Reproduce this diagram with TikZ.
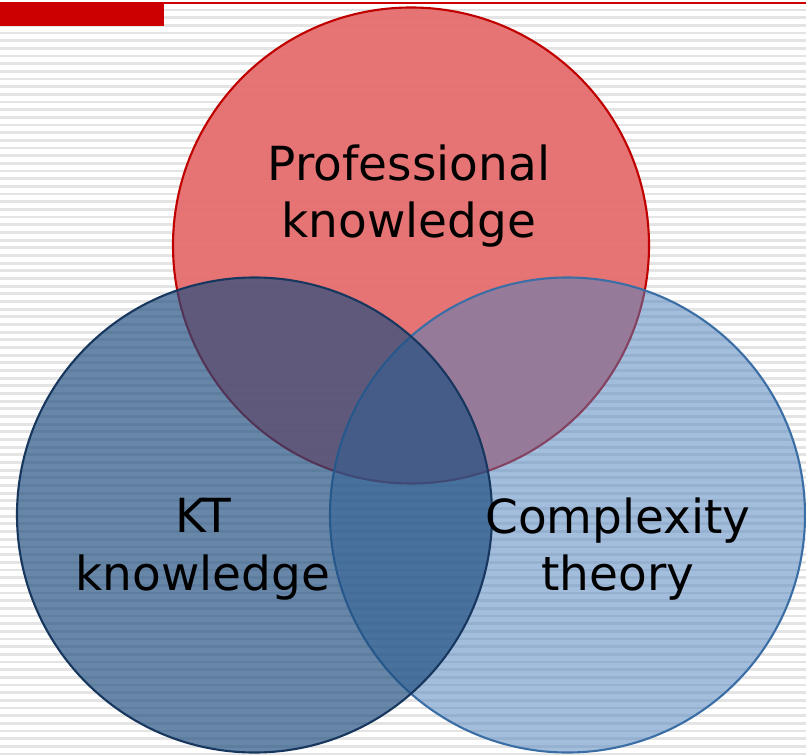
\documentclass[tikz,border=0pt]{standalone}
\usepackage{fontspec}
\setmainfont{DejaVu Sans}
\usepackage{xcolor}
\usetikzlibrary{positioning}
\definecolor{barred}{HTML}{CC0000}
\definecolor{stripegray}{HTML}{E4E4E4}
\definecolor{profred}{HTML}{E66C6C}
\definecolor{profline}{HTML}{C00000}
\definecolor{ktblue}{HTML}{1F4E80}
\definecolor{ktline}{HTML}{17375E}
\definecolor{cxblue}{HTML}{4F81BD}
\definecolor{cxline}{HTML}{3A6EA5}
\tikzset{%
	stripe/.style   = {stripegray, line width=2},
	profset/.style  = {draw=profline, fill=profred, fill opacity=0.94, line width=1.5},
	ktset/.style    = {draw=ktline, fill=ktblue, fill opacity=0.68, line width=1.5},
	cxset/.style    = {draw=cxline, fill=cxblue, fill opacity=0.52, line width=1.5},
	setlabel/.style = {align=center, text=black, font=\fontsize{33.4}{41}\selectfont},
}
\begin{document}
\begin{tikzpicture}[x=0.025cm,y=-0.025cm]
	\useasboundingbox (0,0) rectangle (806,754);
	\fill[white] (0,0) rectangle (806,754);
	\foreach \k in {0,...,97} \draw[stripe] (0,10+7.67*\k) -- (806,10+7.67*\k);
	\fill[barred] (0,2) rectangle (806,4.5);
	\fill[barred] (0,2) rectangle (164,26);
	% the three sets
	\draw[profset] (411,245.5) circle [radius=238];
	\draw[cxset] (567.5,515) circle [radius=237.5];
	\draw[ktset] (254.5,515) circle [radius=237.5];
	\node[setlabel] (prof) at (409,196) {Professional\\knowledge};
	\node[setlabel] (kt) at (203,549) {KT\\knowledge};
	\node[setlabel] (cx) at (618,549) {Complexity\\theory};
\end{tikzpicture}
\end{document}
